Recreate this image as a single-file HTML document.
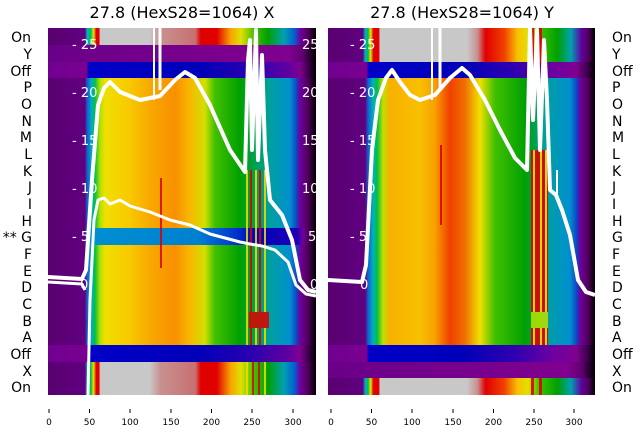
<!DOCTYPE html>
<html><head><meta charset="utf-8"><style>
body{margin:0;background:#fff}
svg{display:block;font-family:"DejaVu Sans","Liberation Sans",sans-serif}
</style></head><body>
<svg width="640" height="440" xmlns="http://www.w3.org/2000/svg">
<defs>
<linearGradient id="LM" gradientUnits="userSpaceOnUse" x1="48" x2="316" y1="0" y2="0">
<stop offset="0" stop-color="#5a0070"/><stop offset=".138" stop-color="#600080"/><stop offset=".146" stop-color="#1060d0"/><stop offset=".164" stop-color="#00b0c0"/><stop offset=".175" stop-color="#00c040"/><stop offset=".194" stop-color="#b0e000"/><stop offset=".213" stop-color="#f0e000"/><stop offset=".306" stop-color="#f8c800"/><stop offset=".381" stop-color="#f8a800"/><stop offset=".474" stop-color="#f89000"/><stop offset=".53" stop-color="#f8b800"/><stop offset=".586" stop-color="#d0e000"/><stop offset=".623" stop-color="#40c000"/><stop offset=".716" stop-color="#00a000"/><stop offset=".828" stop-color="#00a0a0"/><stop offset=".903" stop-color="#0090d0"/><stop offset=".929" stop-color="#1040c0"/><stop offset=".94" stop-color="#7000a0"/><stop offset=".97" stop-color="#50005a"/><stop offset="1" stop-color="#000"/>
</linearGradient>
<linearGradient id="LOff" gradientUnits="userSpaceOnUse" x1="48" x2="316" y1="0" y2="0">
<stop offset="0" stop-color="#700090"/><stop offset=".145" stop-color="#7a0090"/><stop offset=".15" stop-color="#0000c8"/><stop offset=".56" stop-color="#0000b8"/><stop offset=".75" stop-color="#2800b0"/><stop offset=".9" stop-color="#6000a0"/><stop offset=".94" stop-color="#800090"/><stop offset=".97" stop-color="#400050"/><stop offset="1" stop-color="#000"/>
</linearGradient>
<linearGradient id="LOn" gradientUnits="userSpaceOnUse" x1="48" x2="316" y1="0" y2="0">
<stop offset="0" stop-color="#5a0070"/><stop offset=".138" stop-color="#600080"/><stop offset=".146" stop-color="#00b0d0"/><stop offset=".16" stop-color="#00c040"/><stop offset=".17" stop-color="#f0e000"/><stop offset=".18" stop-color="#e00000"/><stop offset=".19" stop-color="#e00000"/><stop offset=".195" stop-color="#c8c8c8"/><stop offset=".38" stop-color="#c8c8c8"/><stop offset=".42" stop-color="#c89090"/><stop offset=".55" stop-color="#c87070"/><stop offset=".57" stop-color="#e00000"/><stop offset=".63" stop-color="#e00000"/><stop offset=".68" stop-color="#f8a000"/><stop offset=".72" stop-color="#e0e000"/><stop offset=".77" stop-color="#40c000"/><stop offset=".82" stop-color="#00a000"/><stop offset=".88" stop-color="#00a0b0"/><stop offset=".92" stop-color="#0060d0"/><stop offset=".94" stop-color="#7000a0"/><stop offset=".97" stop-color="#50005a"/><stop offset="1" stop-color="#000"/>
</linearGradient>
<linearGradient id="LP" gradientUnits="userSpaceOnUse" x1="48" x2="316" y1="0" y2="0">
<stop offset="0" stop-color="#6a0088"/><stop offset=".9" stop-color="#800090"/><stop offset=".95" stop-color="#600070"/><stop offset="1" stop-color="#000"/>
</linearGradient>
<linearGradient id="LG" gradientUnits="userSpaceOnUse" x1="48" x2="316" y1="0" y2="0">
<stop offset="0" stop-color="#5a0070"/><stop offset=".138" stop-color="#600080"/><stop offset=".146" stop-color="#0090d0"/><stop offset=".56" stop-color="#0080d0"/><stop offset=".68" stop-color="#0040d0"/><stop offset=".78" stop-color="#0000c0"/><stop offset=".93" stop-color="#2000b0"/><stop offset=".95" stop-color="#7000a0"/><stop offset=".97" stop-color="#50005a"/><stop offset="1" stop-color="#000"/>
</linearGradient>
<linearGradient id="RM" gradientUnits="userSpaceOnUse" x1="328" x2="595" y1="0" y2="0">
<stop offset="0" stop-color="#5a0070"/><stop offset=".139" stop-color="#600080"/><stop offset=".15" stop-color="#1060d0"/><stop offset=".169" stop-color="#00b0c0"/><stop offset=".184" stop-color="#00c040"/><stop offset=".206" stop-color="#c0e000"/><stop offset=".232" stop-color="#f8b000"/><stop offset=".345" stop-color="#f8c000"/><stop offset=".4" stop-color="#f8a000"/><stop offset=".457" stop-color="#f04000"/><stop offset=".513" stop-color="#f07000"/><stop offset=".569" stop-color="#f0e000"/><stop offset=".625" stop-color="#40c000"/><stop offset=".738" stop-color="#00a000"/><stop offset=".813" stop-color="#00a0a0"/><stop offset=".906" stop-color="#0090d0"/><stop offset=".933" stop-color="#1040c0"/><stop offset=".944" stop-color="#7000a0"/><stop offset=".974" stop-color="#50005a"/><stop offset="1" stop-color="#000"/>
</linearGradient>
<linearGradient id="ROff" gradientUnits="userSpaceOnUse" x1="328" x2="595" y1="0" y2="0">
<stop offset="0" stop-color="#700090"/><stop offset=".145" stop-color="#7a0090"/><stop offset=".152" stop-color="#0000c8"/><stop offset=".5" stop-color="#0000b8"/><stop offset=".7" stop-color="#3000b0"/><stop offset=".85" stop-color="#7000a0"/><stop offset=".93" stop-color="#800090"/><stop offset=".97" stop-color="#400050"/><stop offset="1" stop-color="#000"/>
</linearGradient>
<linearGradient id="ROn" gradientUnits="userSpaceOnUse" x1="328" x2="595" y1="0" y2="0">
<stop offset="0" stop-color="#5a0070"/><stop offset=".13" stop-color="#600080"/><stop offset=".14" stop-color="#00b0d0"/><stop offset=".15" stop-color="#00c040"/><stop offset=".16" stop-color="#f0e000"/><stop offset=".17" stop-color="#e00000"/><stop offset=".19" stop-color="#e00000"/><stop offset=".195" stop-color="#c8c8c8"/><stop offset=".52" stop-color="#c8c8c8"/><stop offset=".56" stop-color="#c89090"/><stop offset=".59" stop-color="#e00000"/><stop offset=".66" stop-color="#f04000"/><stop offset=".71" stop-color="#f8c000"/><stop offset=".75" stop-color="#e0e000"/><stop offset=".79" stop-color="#40c000"/><stop offset=".86" stop-color="#00a000"/><stop offset=".91" stop-color="#00a0b0"/><stop offset=".95" stop-color="#6000a0"/><stop offset=".975" stop-color="#50005a"/><stop offset="1" stop-color="#000"/>
</linearGradient>
<linearGradient id="RP" gradientUnits="userSpaceOnUse" x1="328" x2="595" y1="0" y2="0">
<stop offset="0" stop-color="#6a0088"/><stop offset=".9" stop-color="#800090"/><stop offset=".95" stop-color="#600070"/><stop offset="1" stop-color="#000"/>
</linearGradient>
</defs>

<text x="182" y="18" font-size="16" text-anchor="middle" fill="#000">27.8 (HexS28=1064) X</text>
<text x="462" y="18" font-size="16" text-anchor="middle" fill="#000">27.8 (HexS28=1064) Y</text>

<!-- LEFT PANEL -->
<rect x="48" y="28" width="268" height="367" fill="url(#LM)"/>
<rect x="48" y="28" width="268" height="17" fill="url(#LOn)"/>
<rect x="48" y="45" width="268" height="17" fill="url(#LP)"/>
<rect x="48" y="62" width="268" height="16" fill="url(#LOff)"/>
<rect x="48" y="228" width="268" height="17" fill="url(#LG)"/>
<rect x="48" y="345" width="268" height="17" fill="url(#LOff)"/>
<rect x="48" y="362" width="268" height="33" fill="url(#LOn)"/>
<g opacity=".85">
<rect x="246" y="170" width="2" height="175" fill="#f0e000"/>
<rect x="250" y="170" width="2" height="175" fill="#e00000"/>
<rect x="255" y="170" width="2" height="175" fill="#f0e000"/>
<rect x="259" y="170" width="2" height="175" fill="#e00000"/>
<rect x="264" y="170" width="2" height="175" fill="#f0e000"/>
<rect x="246" y="362" width="2" height="33" fill="#f0e000"/>
<rect x="252" y="362" width="2" height="33" fill="#e00000"/>
<rect x="258" y="362" width="2" height="33" fill="#e00000"/>
<rect x="264" y="362" width="2" height="33" fill="#f0e000"/>
<rect x="249" y="312" width="20" height="16" fill="#e00000"/>
<rect x="160" y="178" width="2" height="90" fill="#e00000"/>
</g>
<g fill="none" stroke="#fff" stroke-linejoin="round">
<polyline stroke-width="4" points="48,277 82,279 86,270 92,180 98,105 104,88 110,82 120,92 140,100 160,96 175,80 185,72 195,78 210,105 230,150 245,172 248,60 250,40 252,150 256,30 258,160 262,55 265,150 270,200 282,215 292,240 300,280 308,290 316,292"/>
<polyline stroke-width="3" points="88,395 90,300 94,220 98,200 104,198 110,204 120,200 130,206 150,212 170,220 190,225 210,234 240,242 250,244 262,246 275,250 288,262 296,285 306,294 316,296"/>
<polyline stroke-width="3" points="48,282 82,284 85,290"/>
<line x1="154" y1="28" x2="154" y2="100" stroke-width="2"/>
<line x1="160" y1="28" x2="160" y2="90" stroke-width="3"/>
</g>
<g fill="#fff" font-size="13">
<text x="72" y="49">- 25</text><text x="72" y="97">- 20</text><text x="72" y="145">- 15</text><text x="72" y="193">- 10</text><text x="72" y="241">- 5</text><text x="80" y="289">0</text>
<text x="302" y="49">25</text><text x="302" y="97">20</text><text x="302" y="145">15</text><text x="302" y="193">10</text><text x="308" y="241">5</text><text x="310" y="289">0</text>
</g>
<g font-size="14" fill="#000" text-anchor="end">
<text x="31" y="42">On</text><text x="32" y="59">Y</text><text x="31" y="76">Off</text><text x="32" y="92">P</text><text x="32" y="109">O</text><text x="32" y="126">N</text><text x="32" y="142">M</text><text x="32" y="159">L</text><text x="32" y="176">K</text><text x="32" y="192">J</text><text x="32" y="209">I</text><text x="32" y="226">H</text><text x="32" y="242">** G</text><text x="32" y="259">F</text><text x="32" y="276">E</text><text x="32" y="292">D</text><text x="32" y="309">C</text><text x="32" y="326">B</text><text x="32" y="342">A</text><text x="31" y="359">Off</text><text x="32" y="376">X</text><text x="31" y="392">On</text>
</g>
<g stroke="#000" stroke-width="1">
<line x1="49" y1="409" x2="49" y2="413"/><line x1="89.5" y1="409" x2="89.5" y2="413"/><line x1="130" y1="409" x2="130" y2="413"/><line x1="171" y1="409" x2="171" y2="413"/><line x1="211.5" y1="409" x2="211.5" y2="413"/><line x1="252" y1="409" x2="252" y2="413"/><line x1="293" y1="409" x2="293" y2="413"/>
<line x1="331" y1="409" x2="331" y2="413"/><line x1="371.5" y1="409" x2="371.5" y2="413"/><line x1="412" y1="409" x2="412" y2="413"/><line x1="453" y1="409" x2="453" y2="413"/><line x1="493.5" y1="409" x2="493.5" y2="413"/><line x1="534" y1="409" x2="534" y2="413"/><line x1="574" y1="409" x2="574" y2="413"/>
</g>
<g font-size="9" fill="#000" text-anchor="middle">
<text x="49" y="425">0</text><text x="89.5" y="425">50</text><text x="130" y="425">100</text><text x="171" y="425">150</text><text x="211.5" y="425">200</text><text x="252" y="425">250</text><text x="293" y="425">300</text>
<text x="331" y="425">0</text><text x="371.5" y="425">50</text><text x="412" y="425">100</text><text x="453" y="425">150</text><text x="493.5" y="425">200</text><text x="534" y="425">250</text><text x="574" y="425">300</text>
</g>

<!-- RIGHT PANEL -->
<rect x="328" y="28" width="267" height="367" fill="url(#RM)"/>
<rect x="328" y="28" width="267" height="34" fill="url(#ROn)"/>
<rect x="328" y="62" width="267" height="16" fill="url(#ROff)"/>
<rect x="328" y="345" width="267" height="17" fill="url(#ROff)"/>
<rect x="328" y="362" width="267" height="16" fill="url(#RP)"/>
<rect x="328" y="378" width="267" height="17" fill="url(#ROn)"/>
<g opacity=".9">
<rect x="531" y="28" width="3" height="34" fill="#e00000"/>
<rect x="539" y="28" width="3" height="34" fill="#e00000"/>
<rect x="531" y="150" width="17" height="195" fill="#e00000"/>
<rect x="533" y="150" width="2" height="195" fill="#f0e000"/>
<rect x="540" y="150" width="2" height="195" fill="#f0e000"/>
<rect x="545" y="150" width="2" height="195" fill="#f0e000"/>
<rect x="531" y="312" width="17" height="16" fill="#b0e000"/>
<rect x="531" y="378" width="3" height="17" fill="#e00000"/>
<rect x="539" y="378" width="3" height="17" fill="#e00000"/>
<rect x="440" y="145" width="2" height="80" fill="#e00000"/>
</g>
<g fill="none" stroke="#fff" stroke-linejoin="round">
<polyline stroke-width="4" points="328,280 362,282 366,265 372,150 378,100 386,78 392,70 400,82 410,95 420,100 435,95 450,78 462,68 470,75 485,100 500,130 515,158 527,170 530,28 533,120 537,30 540,150 544,40 547,100 550,190 556,195 562,210 570,235 578,280 586,292 595,295"/>
<line x1="432" y1="28" x2="432" y2="100" stroke-width="2"/>
<line x1="440" y1="28" x2="440" y2="90" stroke-width="3"/>
<line x1="557" y1="170" x2="557" y2="200" stroke-width="2"/>
</g>
<g fill="#fff" font-size="13">
<text x="350" y="49">- 25</text><text x="350" y="97">- 20</text><text x="350" y="145">- 15</text><text x="350" y="193">- 10</text><text x="350" y="241">- 5</text><text x="360" y="289">0</text>
</g>
<g font-size="14" fill="#000" text-anchor="start">
<text x="612" y="42">On</text><text x="612" y="59">Y</text><text x="612" y="76">Off</text><text x="612" y="92">P</text><text x="612" y="109">O</text><text x="612" y="126">N</text><text x="612" y="142">M</text><text x="612" y="159">L</text><text x="612" y="176">K</text><text x="612" y="192">J</text><text x="612" y="209">I</text><text x="612" y="226">H</text><text x="612" y="242">G</text><text x="612" y="259">F</text><text x="612" y="276">E</text><text x="612" y="292">D</text><text x="612" y="309">C</text><text x="612" y="326">B</text><text x="612" y="342">A</text><text x="612" y="359">Off</text><text x="612" y="376">X</text><text x="612" y="392">On</text>
</g>
</svg>
</body></html>
